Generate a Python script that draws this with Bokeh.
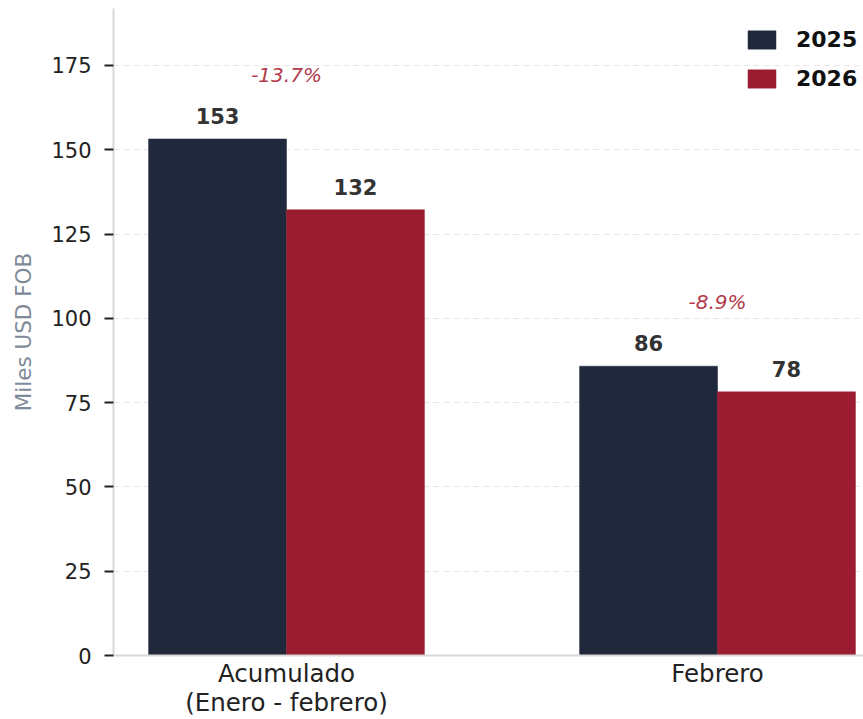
from bokeh.plotting import figure
from bokeh.models import (ColumnDataSource, Range1d, FixedTicker, Legend, LegendItem)
from bokeh.transform import dodge
from bokeh.core.properties import value
from bokeh.embed import file_html
from bokeh.resources import INLINE

# ---- data ----
categories = ["Acumulado\n(Enero - febrero)", "Febrero"]
series_names = ["2025", "2026"]
values_2025 = [153.2, 85.8]
values_2026 = [132.2, 78.2]
yticks = [0, 25, 50, 75, 100, 125, 150, 175]

NAVY = "#1f293b"
RED = "#9b1c31"
FONT = "DejaVu Sans"

xs = list(range(len(categories)))
pct = [(b - a) / a * 100 for a, b in zip(values_2025, values_2026)]
src = ColumnDataSource(dict(
    x=xs,
    v25=values_2025,
    v26=values_2026,
    l25=[f"{v:.0f}" for v in values_2025],
    l26=[f"{v:.0f}" for v in values_2026],
    ymax=[max(a, b) for a, b in zip(values_2025, values_2026)],
    pct=[f"{p:.1f}%" for p in pct],
))

W, H = 863, 719
p = figure(width=W, height=H, output_backend="svg", toolbar_location=None,
           x_range=Range1d(-0.4014, 1.3387), y_range=Range1d(0, 191.9),
           min_border_left=113, min_border_right=0, min_border_top=8,
           min_border_bottom=64)
p.outline_line_color = None
p.background_fill_color = "white"
p.border_fill_color = "white"

bw = 0.32
r25 = p.vbar(x=dodge("x", -bw / 2, range=p.x_range), top="v25", width=bw, bottom=0,
             source=src, fill_color=NAVY, line_color=NAVY, line_width=0.5)
r26 = p.vbar(x=dodge("x", bw / 2, range=p.x_range), top="v26", width=bw, bottom=0,
             source=src, fill_color=RED, line_color=RED, line_width=0.5)

# value labels
for col, lab, off in (("v25", "l25", -bw / 2), ("v26", "l26", bw / 2)):
    p.text(x=dodge("x", off, range=p.x_range), y=col, text=lab, source=src,
           text_font=value(FONT), text_font_style="bold", text_font_size="21px",
           text_color="#333333", text_align="center", text_baseline="alphabetic",
           y_offset=-23)

# percent change labels
p.text(x="x", y="ymax", text="pct", source=src, text_font=value(FONT),
       text_font_style="italic", text_font_size="20px", text_color="#b33a4c",
       text_align="center", text_baseline="alphabetic", y_offset=-64)

# axes
xa = p.xaxis[0]
xa.ticker = FixedTicker(ticks=xs)
xa.major_label_overrides = {i: c for i, c in enumerate(categories)}
xa.major_tick_out = 0
xa.major_tick_in = 0
xa.minor_tick_line_color = None
xa.axis_line_color = "#d9d9d9"
xa.axis_line_width = 2
xa.major_label_text_font = FONT
xa.major_label_text_font_size = "24.5px"
xa.major_label_text_line_height = 1.0
xa.major_label_text_color = "#222222"
xa.major_label_standoff = 3

ya = p.yaxis[0]
ya.ticker = FixedTicker(ticks=yticks)
ya.major_tick_out = 9
ya.major_tick_in = 0
ya.major_tick_line_color = "#222222"
ya.major_tick_line_width = 2
ya.minor_tick_line_color = None
ya.axis_line_color = "#d9d9d9"
ya.axis_line_width = 2
ya.major_label_text_font = FONT
ya.major_label_text_font_size = "21px"
ya.major_label_text_color = "#222222"
ya.major_label_standoff = 13
ya.axis_label = "Miles USD FOB"
ya.axis_label_text_font = FONT
ya.axis_label_text_font_size = "21.5px"
ya.axis_label_text_font_style = "normal"
ya.axis_label_text_color = "#7f8a99"
ya.axis_label_standoff = 12

p.xgrid.grid_line_color = None
p.ygrid.ticker = FixedTicker(ticks=yticks)
p.ygrid.grid_line_color = "#e6e6e6"
p.ygrid.grid_line_dash = "6 4"
p.ygrid.grid_line_width = 1

legend = Legend(items=[LegendItem(label=series_names[0], renderers=[r25]),
                       LegendItem(label=series_names[1], renderers=[r26])],
                location=(631, 564), padding=0, margin=0,
                border_line_color=None, background_fill_alpha=0,
                glyph_width=35, glyph_height=23, label_height=23,
                spacing=14, label_standoff=17,
                label_text_font=FONT, label_text_font_style="bold",
                label_text_font_size="22px", label_text_color="#111111")
p.add_layout(legend)

open("out.html", "w").write(file_html(p, INLINE))
